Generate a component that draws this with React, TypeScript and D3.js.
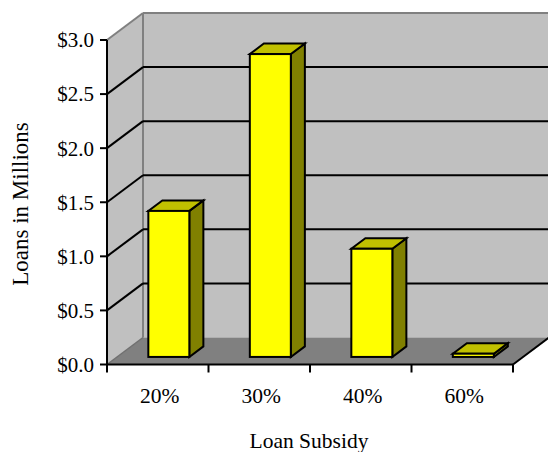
import React from "react";
import * as d3 from "d3";

const categories = ["20%", "30%", "40%", "60%"];
const values = [1.35, 2.8, 1.0, 0.03];
const yTicks = [0, 0.5, 1, 1.5, 2, 2.5, 3];
const yTickLabels = ["$0.0", "$0.5", "$1.0", "$1.5", "$2.0", "$2.5", "$3.0"];
const xTitle = "Loan Subsidy";
const yTitle = "Loans in Millions";

const W = 548;
const H = 452;
const DX = 36;
const DY = -27;
const F1 = 0.28;
const F2 = 0.67;
const FONT = "'Liberation Serif', 'Times New Roman', serif";

export default function App() {
  const x = d3.scaleBand<string>().domain(categories).range([107, 513]).padding(0);
  const y = d3.scaleLinear().domain([0, 3]).range([364.5, 40]);
  const x0 = x.range()[0];
  const x1 = x.range()[1];
  const yb = y(0);
  const yt = y(3);
  const pts = (arr: number[][]) => arr.map((p) => p.join(",")).join(" ");
  const barW = 41;
  const ddx = (F2 - F1) * DX;
  const ddy = (F2 - F1) * DY;

  return (
    <svg width={W} height={H} style={{ position: "absolute", left: 0, top: 0, background: "#fff" }} fontFamily={FONT}>
      {/* back wall */}
      <polygon points={pts([[x0 + DX, yt + DY], [x1 + DX, yt + DY], [x1 + DX, yb + DY], [x0 + DX, yb + DY]])} fill="#c0c0c0" />
      {/* left wall */}
      <polygon points={pts([[x0, yt], [x0 + DX, yt + DY], [x0 + DX, yb + DY], [x0, yb]])} fill="#c0c0c0" />
      {/* floor */}
      <polygon points={pts([[x0, yb], [x0 + DX, yb + DY], [x1 + DX, yb + DY], [x1, yb]])} fill="#808080" />
      {/* wall edges */}
      <line x1={x0 + DX} y1={yt + DY} x2={x0 + DX} y2={yb + DY} stroke="#808080" strokeWidth={2} />
      <line x1={x0} y1={yt} x2={x0 + DX} y2={yt + DY} stroke="#808080" strokeWidth={2} />
      <line x1={x0 + DX} y1={yt + DY} x2={x1 + DX} y2={yt + DY} stroke="#808080" strokeWidth={2} />
      <line x1={x0} y1={yb} x2={x0 + DX} y2={yb + DY} stroke="#707070" strokeWidth={1.5} />
      {/* gridlines */}
      {yTicks.filter((t) => t > 0 && t < 3).map((t) => (
        <g key={t}>
          <line x1={x0} y1={y(t)} x2={x0 + DX} y2={y(t) + DY} stroke="#000" strokeWidth={2} />
          <line x1={x0 + DX} y1={y(t) + DY} x2={x1 + DX} y2={y(t) + DY} stroke="#000" strokeWidth={2} />
        </g>
      ))}
      {/* floor right edge */}
      <line x1={x1} y1={yb} x2={x1 + DX} y2={yb + DY} stroke="#000" strokeWidth={2} />
      {/* bars */}
      {categories.map((c, i) => {
        const v = values[i];
        const L = (x(c) as number) + (x.bandwidth() - barW) / 2 + 1 + F1 * DX;
        const T = y(v) + F1 * DY;
        const B = yb + F1 * DY;
        const R = L + barW;
        return (
          <g key={c} stroke="#000" strokeWidth={2} strokeLinejoin="miter">
            <polygon points={pts([[R, T], [R + ddx, T + ddy], [R + ddx, B + ddy], [R, B]])} fill="#808000" />
            <polygon points={pts([[L, T], [R, T], [R + ddx, T + ddy], [L + ddx, T + ddy]])} fill="#c0c000" />
            <rect x={L} y={T} width={barW} height={B - T} fill="#ffff00" />
          </g>
        );
      })}
      {/* axes */}
      <line x1={x0} y1={yt} x2={x0} y2={yb} stroke="#000" strokeWidth={2} />
      <line x1={x0 - 1} y1={yb} x2={x1} y2={yb} stroke="#000" strokeWidth={2} />
      {yTicks.map((t, i) => (
        <g key={t}>
          <line x1={x0 - 7} y1={y(t)} x2={x0} y2={y(t)} stroke="#000" strokeWidth={2} />
          <text x={94} y={y(t)} dy="0.35em" textAnchor="end" fontSize={21} fill="#000">{yTickLabels[i]}</text>
        </g>
      ))}
      {[...categories.map((c) => x(c) as number), x1].map((v, i) => (
        <line key={i} x1={v} y1={yb} x2={v} y2={yb + 8} stroke="#000" strokeWidth={2} />
      ))}
      {categories.map((c) => (
        <text key={c} x={(x(c) as number) + x.bandwidth() / 2 + 2} y={403} textAnchor="middle" fontSize={21.5} fill="#000">{c}</text>
      ))}
      <text x={309} y={448} textAnchor="middle" fontSize={21.5} fill="#000">{xTitle}</text>
      <text transform={`translate(28,204) rotate(-90)`} textAnchor="middle" fontSize={23} fill="#000">{yTitle}</text>
    </svg>
  );
}
